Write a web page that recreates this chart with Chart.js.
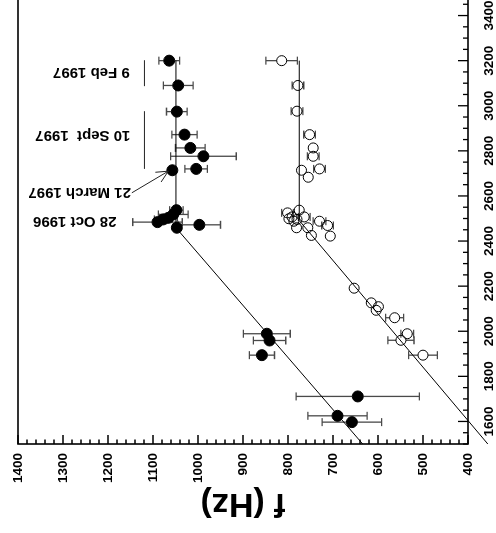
<!DOCTYPE html>
<html lang="en">
<head>
  <meta charset="UTF-8">
  <title>f (Hz)</title>
  <script src="https://cdn.jsdelivr.net/npm/chart.js"></script>
  <style>
    html, body {
      margin: 0;
      padding: 0;
      background: #fff;
      overflow: hidden;
    }

    #wrap {
      position: absolute;
      left: 0;
      top: 0;
      width: 496px;
      height: 533px;
      overflow: hidden;
    }

    /* the plot is built lying on its side, then turned a quarter turn */
    #grafico {
      position: absolute;
      left: 0;
      top: 0;
      transform-origin: 0 0;
      transform: translate(0px, 533px) rotate(-90deg);
    }
  </style>
</head>
<body>
  <div id="wrap"><canvas id="grafico" width="560" height="496"></canvas></div>

  <script>
    // axis ticks
    const xTicks = [1600, 1800, 2000, 2200, 2400, 2600, 2800, 3000, 3200, 3400];
    const fTicks = [400, 500, 600, 700, 800, 900, 1000, 1100, 1200, 1300, 1400];

    // filled circles
    const cheioX = [3200, 3090, 2974, 2872, 2813, 2776, 2720, 2714, 2537, 2518, 2503, 2496, 2484, 2472, 2459, 1989, 1959, 1894, 1711, 1625, 1597];
    const cheioF = [1064, 1044, 1047, 1030, 1017, 988, 1004, 1057, 1048, 1055, 1066, 1077, 1090, 997, 1047, 847, 841, 858, 645, 690, 658];
    const cheioErr = [23, 33, 23, 28, 33, 73, 25, 0, 15, 33, 20, 20, 55, 47, 0, 52, 36, 28, 137, 66, 66];

    // open circles
    const vazioX = [3200, 3090, 2976, 2872, 2813, 2776, 2720, 2714, 2683, 2537, 2525, 2507, 2499, 2496, 2507, 2459, 2459, 2488, 2469, 2425, 2422, 2488, 2191, 2126, 2109, 2093, 2060, 1989, 1960, 1894];
    const vazioF = [814, 778, 780, 752, 744, 744, 730, 770, 755, 775, 801, 791, 798, 780, 764, 781, 756, 730, 712, 748, 706, 787, 653, 615, 599, 604, 563, 535, 549, 500];
    const vazioErr = [35, 13, 13, 13, 0, 13, 13, 0, 0, 0, 13, 0, 0, 0, 13, 0, 0, 14, 13, 0, 0, 0, 0, 0, 0, 0, 20, 14, 29, 32];

    // fitted lines (rise, then flat)
    const retaCheioX = [1500, 2459, 3200];
    const retaCheioF = [634, 1049, 1049];
    const retaVazioX = [1500, 2491, 3200];
    const retaVazioF = [356, 775, 775];

    // dates written beside the flat part
    const notaTexto = ['9 Feb 1997', '10 Sept  1997', '21 March 1997', '28 Oct 1996'];
    const notaX = [3148, 2868, 2617, 2488];
    const notaF = [1237, 1256, 1263, 1274];
    const marcaF = 1119;
    const marcaX = [[3202, 3087], [2976, 2720]];
    const setaX = [2614, 2710];
    const setaF = [1147, 1066];

    const fonte = "'Liberation Sans', Arial, sans-serif";
    const pares = (xs, ys) => xs.map((v, i) => ({ x: v, y: ys[i] }));

    const barrasErro = {
      id: 'barrasErro',
      beforeDatasetsDraw(chart) {
        const { ctx, scales: { x, y } } = chart;
        ctx.save();
        ctx.strokeStyle = '#4a4a4a';
        ctx.lineWidth = 1.3;
        chart.data.datasets.forEach(ds => {
          if (!ds.erros) return;
          const r = ds.pointRadius;
          ds.data.forEach((p, i) => {
            const e = ds.erros[i];
            if (!e) return;
            const px = x.getPixelForValue(p.x);
            const py = y.getPixelForValue(p.y);
            const top = y.getPixelForValue(p.y + e);
            const bot = y.getPixelForValue(p.y - e);
            ctx.beginPath();
            if (py - top > r) { ctx.moveTo(px, top); ctx.lineTo(px, py - r); }
            if (bot - py > r) { ctx.moveTo(px, py + r); ctx.lineTo(px, bot); }
            ctx.moveTo(px - 4, top); ctx.lineTo(px + 4, top);
            ctx.moveTo(px - 4, bot); ctx.lineTo(px + 4, bot);
            ctx.stroke();
          });
        });
        ctx.restore();
      }
    };

    const anotacoes = {
      id: 'anotacoes',
      afterDatasetsDraw(chart) {
        const { ctx, scales: { x, y } } = chart;
        ctx.save();
        ctx.fillStyle = '#000';
        ctx.font = 'bold 15px ' + fonte;
        ctx.textAlign = 'center';
        ctx.textBaseline = 'middle';
        notaTexto.forEach((t, i) => {
          ctx.save();
          ctx.translate(x.getPixelForValue(notaX[i]), y.getPixelForValue(notaF[i]));
          ctx.rotate(-Math.PI / 2);
          ctx.fillText(t, 0, 0);
          ctx.restore();
        });

        ctx.strokeStyle = '#222';
        ctx.lineWidth = 1;
        ctx.beginPath();
        const my = y.getPixelForValue(marcaF);
        marcaX.forEach(([a, b]) => {
          ctx.moveTo(x.getPixelForValue(a), my);
          ctx.lineTo(x.getPixelForValue(b), my);
        });
        // arrow to the 21 March point
        const x0 = x.getPixelForValue(setaX[0]), y0 = y.getPixelForValue(setaF[0]);
        const x1 = x.getPixelForValue(setaX[1]), y1 = y.getPixelForValue(setaF[1]);
        ctx.moveTo(x0, y0);
        ctx.lineTo(x1, y1);
        const ang = Math.atan2(y1 - y0, x1 - x0);
        [0.45, -0.45].forEach(d => {
          ctx.moveTo(x1, y1);
          ctx.lineTo(x1 - 13 * Math.cos(ang + d), y1 - 13 * Math.sin(ang + d));
        });
        ctx.stroke();
        ctx.restore();
      }
    };

    const moldura = {
      id: 'moldura',
      afterDraw(chart) {
        const { ctx, chartArea: a, scales: { x, y } } = chart;
        ctx.save();
        ctx.strokeStyle = '#000';
        ctx.lineWidth = 1.6;
        ctx.strokeRect(a.left, a.top, a.right - a.left, a.bottom - a.top);
        ctx.lineWidth = 1.3;
        ctx.beginPath();
        for (let v = 1500; v <= 3500; v += 50) {
          const px = x.getPixelForValue(v);
          const len = xTicks.includes(v) ? 10 : 5;
          ctx.moveTo(px, a.bottom);
          ctx.lineTo(px, a.bottom - len);
        }
        for (let v = 400; v <= 1400; v += 20) {
          const py = y.getPixelForValue(v);
          const len = fTicks.includes(v) ? 9 : 4.5;
          ctx.moveTo(a.left, py);
          ctx.lineTo(a.left + len, py);
        }
        ctx.stroke();
        ctx.restore();
      }
    };

    const ctx = document.getElementById('grafico').getContext('2d');
    new Chart(ctx, {
      type: 'scatter',
      data: {
        datasets: [
          {
            data: pares(cheioX, cheioF),
            erros: cheioErr,
            pointRadius: 5.5,
            pointBackgroundColor: '#000',
            pointBorderColor: '#000',
            pointBorderWidth: 1
          },
          {
            data: pares(vazioX, vazioF),
            erros: vazioErr,
            pointRadius: 5,
            pointBackgroundColor: 'rgba(255,255,255,0)',
            pointBorderColor: '#000',
            pointBorderWidth: 1
          },
          {
            data: pares(retaCheioX, retaCheioF),
            showLine: true,
            borderColor: '#000',
            borderWidth: 1,
            pointRadius: 0
          },
          {
            data: pares(retaVazioX, retaVazioF),
            showLine: true,
            borderColor: '#000',
            borderWidth: 1,
            pointRadius: 0,
            clip: false
          }
        ]
      },
      options: {
        responsive: false,
        animation: false,
        events: [],
        layout: { padding: { top: 18, right: 20, left: 0, bottom: 0 } },
        plugins: { legend: { display: false }, tooltip: { enabled: false } },
        scales: {
          x: {
            type: 'linear',
            min: 1500,
            max: 3500,
            grid: { display: false, drawTicks: false },
            border: { display: false },
            afterBuildTicks: s => { s.ticks = xTicks.map(v => ({ value: v })); },
            afterFit: s => { s.height = 28; },
            ticks: {
              padding: 13,
              maxRotation: 0,
              color: '#000',
              font: { family: fonte, size: 13.5, weight: 'bold' },
              callback: v => String(v)
            }
          },
          y: {
            type: 'linear',
            min: 400,
            max: 1400,
            grid: { display: false, drawTicks: false },
            border: { display: false },
            afterBuildTicks: s => { s.ticks = fTicks.map(v => ({ value: v })); },
            afterFit: s => { s.width = 89; },
            title: {
              display: true,
              text: 'f (Hz)',
              color: '#000',
              padding: { top: 9, bottom: 0 },
              font: { family: fonte, size: 34, weight: 'bold' }
            },
            ticks: {
              padding: 9,
              color: '#000',
              font: { family: fonte, size: 13.5, weight: 'bold' },
              callback: v => String(v)
            }
          }
        }
      },
      plugins: [barrasErro, anotacoes, moldura]
    });
  </script>
</body>
</html>
